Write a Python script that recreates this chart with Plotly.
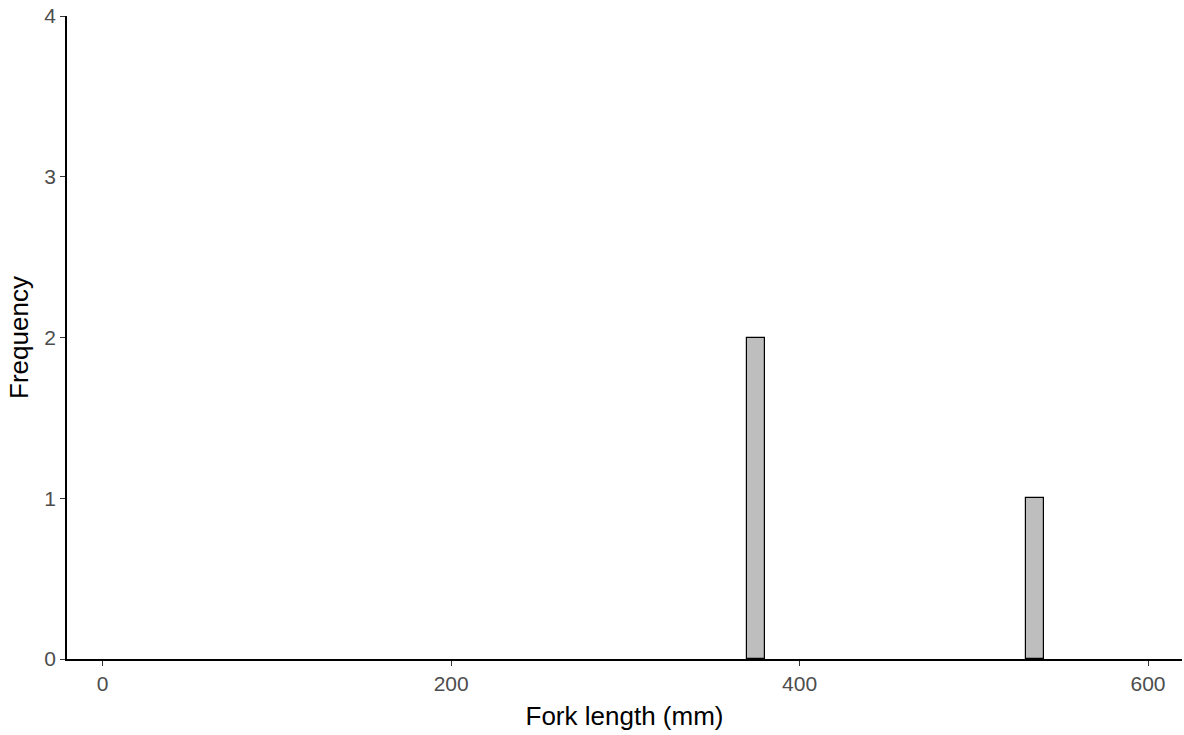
import plotly.graph_objects as go

# histogram bins (width 10 mm) with non-zero counts
bin_left = [370, 530]
bin_width = 10
counts = [2, 1]

x_ticks = [0, 200, 400, 600]
y_ticks = [0, 1, 2, 3, 4]

bin_mid = [b + bin_width / 2 for b in bin_left]

FONT = "Liberation Sans, Arial, sans-serif"

fig = go.Figure(go.Bar(
    x=bin_mid,
    y=counts,
    width=[bin_width] * len(bin_mid),
    marker=dict(color="#bebebe", line=dict(color="black", width=1.2)),
    showlegend=False,
))

fig.update_layout(
    width=1184,
    height=735,
    plot_bgcolor="white",
    paper_bgcolor="white",
    margin=dict(l=67, r=2, t=16, b=76, autoexpand=False),
    bargap=0,
)

for upd in (fig.update_xaxes, fig.update_yaxes):
    upd(
        showgrid=False,
        zeroline=False,
        showline=True,
        linecolor="black",
        linewidth=1.6,
        ticks="outside",
        ticklen=5,
        tickwidth=1.3,
        tickcolor="#333333",
        tickfont=dict(family=FONT, size=21, color="#4d4d4d"),
        title_font=dict(family=FONT, size=26, color="black"),
    )

fig.update_xaxes(range=[-20.5, 619.5], tickvals=x_ticks,
                 title_text="Fork length (mm)", title_standoff=13)
fig.update_yaxes(range=[0, 4], tickvals=y_ticks,
                 title_text="Frequency", title_standoff=8)

# drop the default body margin so the figure fills the window exactly
fig.write_html(
    "out.html",
    config={"displayModeBar": False},
    post_script="document.body.style.margin = '0';",
)
